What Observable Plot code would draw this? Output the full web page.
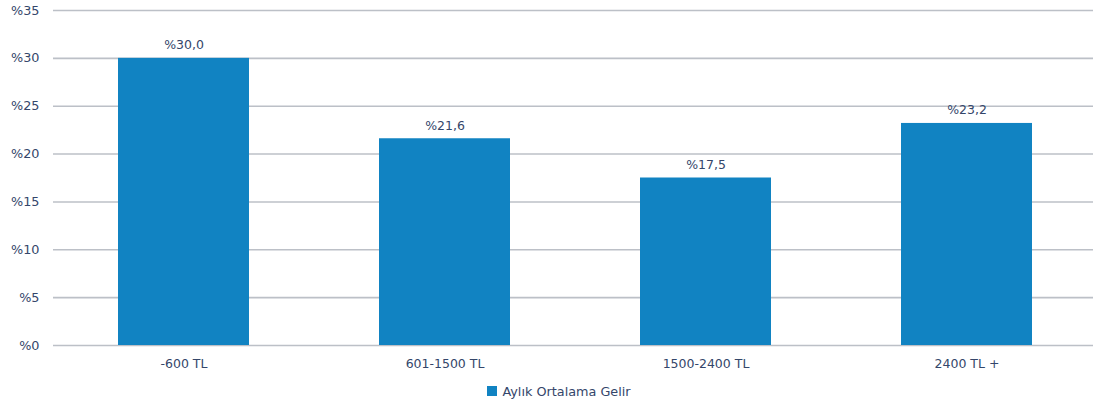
<!DOCTYPE html>
<html>
<head>
<meta charset="utf-8">
<script src="https://cdn.jsdelivr.net/npm/d3@7"></script>
<script src="https://cdn.jsdelivr.net/npm/@observablehq/plot@0.6"></script>
<style>
  html, body { margin: 0; padding: 0; background: #fff; }
  #chart { width: 1096px; }
  .legend { display: flex; justify-content: center; align-items: center; height: 26px; font-family: "DejaVu Sans", sans-serif; font-size: 12.8px; color: #34466a; margin-left: 22px; }
  .legend .sw { width: 10px; height: 10px; background: #1183c2; margin-right: 5px; }
</style>
</head>
<body>
<div id="chart"></div>
<script>
const categories = ["-600 TL", "601-1500 TL", "1500-2400 TL", "2400 TL +"];
const values = [30.0, 21.6, 17.5, 23.2];
const yTicks = [0, 5, 10, 15, 20, 25, 30, 35];
const seriesName = "Aylık Ortalama Gelir";

const data = categories.map((c, i) => ({category: c, value: values[i]}));
const fmt = v => "%" + v.toFixed(1).replace(".", ",");

const plot = Plot.plot({
  width: 1096,
  height: 378,
  marginLeft: 53,
  marginRight: 3,
  marginTop: 10,
  marginBottom: 33,
  style: {fontFamily: "DejaVu Sans, sans-serif", fontSize: "12px", color: "#34466a", background: "#fff"},
  x: {domain: categories, range: [53, 1097], paddingInner: 0.498, paddingOuter: 0.249, label: null},
  y: {domain: [0, 35], label: null},
  marks: [
    Plot.ruleY(yTicks, {stroke: "#bcc0c7", strokeWidth: 1.6}),
    Plot.barY(data, {x: "category", y: "value", fill: "#1183c2"}),
    Plot.text(data, {x: "category", y: "value", text: d => fmt(d.value), dy: -13, fill: "#34466a", fontSize: 12.5}),
    Plot.axisY({ticks: yTicks, tickSize: 0, tickPadding: 14, tickFormat: d => "%" + d, fontSize: 12.8, fill: "#34466a"}),
    Plot.axisX({tickSize: 0, tickPadding: 14, fontSize: 12.5, fill: "#34466a"})
  ]
});
document.getElementById("chart").appendChild(plot);
const leg = document.createElement("div");
leg.className = "legend";
leg.innerHTML = `<span class="sw"></span><span></span>`;
leg.lastChild.textContent = seriesName;
document.getElementById("chart").appendChild(leg);
</script>
</body>
</html>
